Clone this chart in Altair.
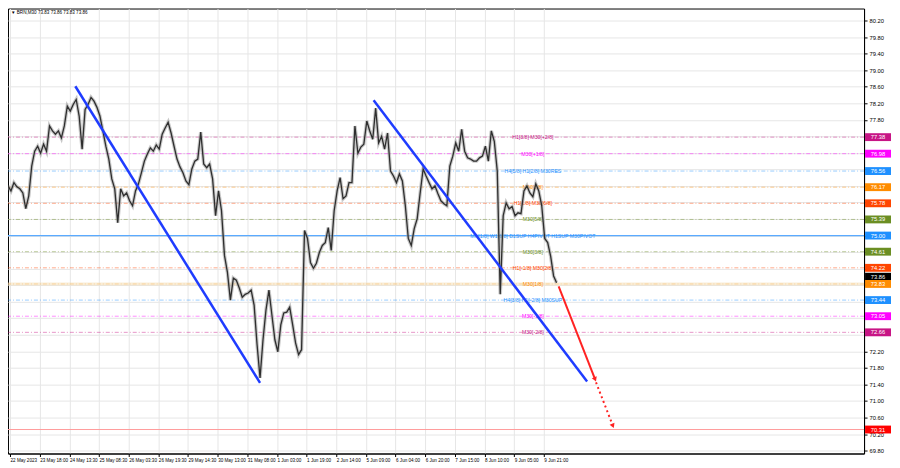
import json
import altair as alt
import pandas as pd

# ---------------- data ----------------
closes = [
    76.20, 76.08, 76.28, 76.18, 76.13, 76.03, 75.65, 75.96, 76.68, 77.04,
    77.16, 76.99, 77.21, 77.04, 77.65, 77.53, 77.45, 77.53, 77.36, 77.65,
    78.13, 78.01, 78.17, 78.29, 77.89, 77.09, 78.05, 78.17, 78.34, 78.25,
    78.10, 77.89, 77.53, 77.16, 76.85, 76.37, 76.13, 75.31, 76.13, 75.96,
    76.03, 75.84, 75.72, 76.08, 76.25, 76.52, 76.80, 76.97, 77.12, 77.04,
    77.19, 77.09, 77.45, 77.60, 77.74, 77.48, 77.16, 76.85, 76.66, 76.52,
    76.32, 76.23, 76.61, 76.80, 76.85, 77.50, 76.73, 76.64, 76.73, 76.37,
    75.48, 76.08, 75.60, 74.52, 74.11, 73.44, 73.97, 73.92, 73.73, 73.51,
    73.58, 73.61, 73.68, 73.32, 72.36, 71.56, 72.48, 73.20, 73.68, 73.08,
    72.48, 72.19, 72.84, 73.13, 73.15, 73.27, 72.84, 72.40, 72.12, 72.24,
    75.12, 74.93, 74.35, 74.21, 74.33, 74.59, 74.76, 74.83, 75.19, 74.64,
    75.60, 76.08, 76.40, 75.89, 75.96, 76.28, 76.28, 77.65, 76.99, 77.14,
    77.21, 77.77, 77.53, 77.33, 78.08, 77.24, 77.40, 77.09, 77.48, 76.56,
    76.44, 76.28, 76.49, 76.32, 75.72, 74.93, 74.76, 75.17, 75.41, 76.03,
    76.61, 76.44, 76.28, 76.13, 76.20, 76.01, 75.84, 75.77, 75.72, 76.68,
    76.92, 77.24, 77.04, 77.57, 77.04, 76.88, 76.85, 76.80, 76.80, 76.88,
    76.92, 77.16, 76.80, 77.53, 77.28, 76.56, 73.58, 75.48, 75.79, 75.65,
    75.70, 75.48, 75.55, 75.53, 76.08, 76.20, 76.03, 75.94, 76.25, 76.08,
    75.72, 74.93, 74.83, 74.50, 74.02, 73.86,
]

time_labels = [
    "22 May 2023", "23 May 18:00", "24 May 13:30", "25 May 08:30", "26 May 03:30",
    "26 May 19:30", "29 May 14:30", "30 May 13:00", "31 May 08:00", "1 Jun 03:00",
    "1 Jun 19:00", "2 Jun 14:00", "5 Jun 09:00", "6 Jun 04:00", "6 Jun 20:00",
    "7 Jun 15:00", "8 Jun 10:00", "9 Jun 05:00", "9 Jun 21:00",
]

level_prices = [77.38, 76.98, 76.56, 76.17, 75.78, 75.39, 75.00,
                74.61, 74.22, 73.83, 73.44, 73.05, 72.66]
level_names = [
    "H1[3/8] M30[+2/8]", "M30[+1/8]", "H4[5/8] H1[2/8] M30RES", "M30[8/8]",
    "H1[1/8] M30[6/8]", "M30[5/8]", "MN[1/8] W1[6/8] D1SUP H4PIVOT H1SUP M30PIVOT",
    "M30[3/8]", "H1[-1/8] M30[2/8]", "M30[1/8]", "H4[3/8] H1[-2/8] M30SUP",
    "M30[-1/8]", "M30[-2/8]",
]
level_colors = ["#C71585", "#FF00FF", "#1E90FF", "#FF8C00", "#FF4500", "#6B8E23",
                "#1E90FF", "#6B8E23", "#FF4500", "#FF8C00", "#1E90FF", "#FF00FF",
                "#C71585"]

target_price = 70.31
current_price = 73.86
title_text = "\u25BC BRN,M30 73.83 73.86 73.83 73.86"

trend_id = ["t1", "t1", "t2", "t2"]
trend_bar = [22.7, 85.0, 123.3, 195.3]
trend_price = [78.61, 71.44, 78.27, 71.47]

arrow_bar = [185.7, 198.0]
arrow_price = [73.77, 71.52]
dotted_bar = [198.3, 204.0]
dotted_price = [71.45, 70.40]

# ---------------- layout ----------------
W, H = 858, 446
XMAX = 288.7
YMIN, YMAX = 69.73, 80.49
FONT = "Liberation Sans"

xs = alt.Scale(domain=[0, XMAX], nice=False, zero=False)
ys = alt.Scale(domain=[YMIN, YMAX], nice=False, zero=False)

tick_vals = [round(0.7 + 10 * k, 2) for k in range(len(time_labels))]
x_label_expr = json.dumps(time_labels) + "[round((datum.value - 0.7) / 10)]"
y_vals = [round(80.2 - 0.4 * k, 2) for k in range(27)]

price_df = pd.DataFrame({"i": list(range(len(closes))), "p": closes})
lvl_df = pd.DataFrame({"k": list(range(len(level_prices))), "p": level_prices,
                       "name": level_names, "col": level_colors})
box_df = pd.DataFrame({"p": level_prices + [target_price],
                       "col": level_colors + ["#FF0000"]})
trend_df = pd.DataFrame({"id": trend_id, "i": trend_bar, "p": trend_price})
arrow_df = pd.DataFrame({"i": arrow_bar, "p": arrow_price})
dotted_df = pd.DataFrame({"i": dotted_bar, "p": dotted_price})

x_axis = alt.Axis(
    values=tick_vals, tickCount=60, labelExpr=x_label_expr, labelAlign="left",
    labelFontSize=4.6, labelFont=FONT, labelColor="#000", labelPadding=1, tickSize=3,
    tickColor="#000", domainColor="#000", grid=True, gridColor="#e6e6e6", title=None,
    labelFlush=False, labelOverlap=False, labelBound=False)
y_axis = alt.Axis(
    orient="right", values=y_vals, tickCount=60, format=".2f",
    labelExpr="(datum.value > 72.5 && datum.value < 77.2) ? '' : format(datum.value, '.2f')",
    labelFontSize=5.8, labelFont=FONT, labelColor="#000", labelPadding=2, tickSize=3,
    tickColor="#000", domainColor="#000", grid=True, gridColor="#e6e6e6", title=None,
    labelFlush=False, labelOverlap=False, labelBound=False)

xe = alt.X("i:Q", scale=xs, title=None)
ye = alt.Y("p:Q", scale=ys, title=None)

# invisible carrier layer that draws the grid and both axes
axis_layer = alt.Chart(price_df).mark_line(opacity=0).encode(
    x=alt.X("i:Q", scale=xs, axis=x_axis), y=alt.Y("p:Q", scale=ys, axis=y_axis))

# level lines
lvl_lines = alt.Chart(lvl_df).transform_filter("datum.p != 75").mark_rule(
    strokeDash=[4, 2, 1, 2], strokeWidth=1, opacity=0.45).encode(
    y=ye, color=alt.Color("col:N", scale=None))
pivot_line = alt.Chart(lvl_df).transform_filter("datum.p == 75").mark_rule(
    strokeWidth=1.2, color="#5aaaff").encode(y=ye)
cur_band = alt.Chart(lvl_df).transform_filter("datum.p == 73.83").mark_rule(
    strokeWidth=3, color="#f3dcb0", opacity=0.5).encode(y=ye)
target_line = alt.Chart(pd.DataFrame({"p": [target_price]})).mark_rule(
    strokeWidth=1, color="#ff9c9c").encode(y=ye)

lvl_text = alt.Chart(lvl_df).mark_text(fontSize=5.2, font=FONT, align="center",
                                       baseline="middle").encode(
    x=alt.datum(177, scale=xs), y=ye, text="name:N",
    color=alt.Color("col:N", scale=None))

# price: soft band underneath plus darker line on top (bar-chart look)
price_band = alt.Chart(price_df).mark_line(color="#9a9a9a", strokeWidth=3.5,
                                           opacity=0.55).encode(x=xe, y=ye)
price_line = alt.Chart(price_df).mark_line(color="#2e2e2e", strokeWidth=1.3).encode(
    x=xe, y=ye)

# trend lines
trend = alt.Chart(trend_df).mark_line(color="#1f3cff", strokeWidth=2.5).encode(
    x=xe, y=ye, detail="id:N")

# arrows
arrow = alt.Chart(arrow_df).mark_line(color="#ff2222", strokeWidth=2).encode(x=xe, y=ye)
dotted = alt.Chart(dotted_df).mark_line(color="#ff2222", strokeWidth=2,
                                        strokeDash=[2, 3]).encode(x=xe, y=ye)
head1 = alt.Chart(arrow_df).transform_window(r="row_number()").transform_filter(
    "datum.r == 2").mark_point(shape="triangle-up", filled=True, color="#ff2222",
                               size=28, angle=158, opacity=1).encode(x=xe, y=ye)
head2 = alt.Chart(dotted_df).transform_window(r="row_number()").transform_filter(
    "datum.r == 2").mark_point(shape="triangle-up", filled=True, color="#ff2222",
                               size=28, angle=158, opacity=1).encode(x=xe, y=ye)

# right-side price boxes
box_base = alt.Chart(box_df).transform_calculate(
    top="datum.p + 0.095", bot="datum.p - 0.095", txt="format(datum.p, '.2f')")
boxes = box_base.mark_rect().encode(
    x=alt.value(W + 1), x2=alt.value(W + 27),
    y=alt.Y("top:Q", scale=ys, title=None), y2="bot:Q",
    color=alt.Color("col:N", scale=None))
box_txt = box_base.mark_text(fontSize=5.8, font=FONT, color="white",
                             align="center", baseline="middle").encode(
    x=alt.value(W + 14), y=ye, text="txt:N")

cur_df = pd.DataFrame({"p": [current_price]})
cur_base = alt.Chart(cur_df).transform_calculate(
    top="datum.p + 0.095", bot="datum.p - 0.095", txt="format(datum.p, '.2f')")
cur_box = cur_base.mark_rect(color="#000", yOffset=-6).encode(
    x=alt.value(W + 1), x2=alt.value(W + 27),
    y=alt.Y("top:Q", scale=ys, title=None), y2="bot:Q")
cur_txt = cur_base.mark_text(fontSize=5.8, font=FONT, color="white", align="center",
                             baseline="middle", yOffset=-6).encode(
    x=alt.value(W + 14), y=ye, text="txt:N")

title = alt.Chart(pd.DataFrame({"t": [title_text]})).mark_text(
    fontSize=4.6, font=FONT, align="left", baseline="middle", color="#000").encode(
    x=alt.value(3), y=alt.value(4), text="t:N")

chart = alt.layer(
    axis_layer, lvl_lines, pivot_line, cur_band, target_line, lvl_text,
    price_band, price_line, trend, arrow, dotted, head1, head2,
    cur_box, cur_txt, boxes, box_txt, title,
).resolve_scale(color="independent").properties(
    width=W, height=H, background="white",
    autosize=alt.AutoSizeParams(type="none"),
    padding={"left": 0, "top": 0, "right": 28, "bottom": 12},
).configure_view(stroke="#000", strokeWidth=1)

chart.save("out.html", embed_options={"renderer": "svg", "actions": False})
